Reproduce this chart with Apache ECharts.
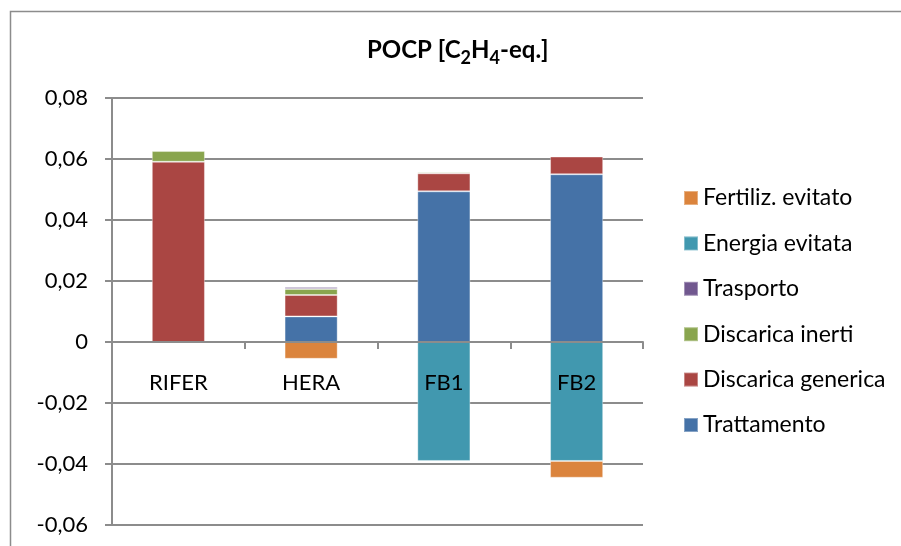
<!DOCTYPE html>
<html>
<head>
<meta charset="utf-8">
<script src="https://cdn.jsdelivr.net/npm/echarts@6/dist/echarts.min.js"></script>
<style>
  html, body { margin: 0; padding: 0; background: #fff; }
  #chart { width: 901px; height: 546px; }
</style>
</head>
<body>
<div id="chart"></div>
<script>
const categories = ["RIFER", "HERA", "FB1", "FB2"];
const trattamento = [0, 0.0084, 0.0494, 0.055];
const discaricaGenerica = [0.0591, 0.007, 0.0059, 0.0058];
const discaricaInerti = [0.0035, 0.002, 0.0004, 0];
const trasporto = [0, 0.0006, 0, 0];
const energiaEvitata = [0, 0, -0.039, -0.039];
const fertilizEvitato = [0, -0.0055, 0, -0.0055];
const legendOrder = ["Fertiliz. evitato", "Energia evitata", "Trasporto", "Discarica inerti", "Discarica generica", "Trattamento"];

const FONT = "Lato, 'Liberation Sans', sans-serif";
const myChart = echarts.init(document.getElementById("chart"));

function bar(name, data, color) {
  return {
    name: name,
    type: "bar",
    stack: "tot",
    // empty slots instead of zero-height bars
    data: data.map((v) => (v === 0 ? "-" : v)),
    barWidth: "40%",
    itemStyle: {
      color: color,
      borderColor: "rgba(255,255,255,0.35)",
      borderWidth: 1,
    },
  };
}

myChart.setOption({
  animation: false,
  textStyle: { fontFamily: FONT },
  title: {
    text: "{a|POCP [C}{s|2}{a|H}{s|4}{a|-eq.]}",
    left: 367,
    top: 36,
    padding: 0,
    textStyle: {
      rich: {
        a: { fontFamily: FONT, fontSize: 24, fontWeight: "bold", color: "#000", lineHeight: 28 },
        s: { fontFamily: FONT, fontSize: 18, fontWeight: "bold", color: "#000", lineHeight: 19, padding: [16, 0, 0, 0] },
      },
    },
  },
  graphic: [
    {
      type: "rect",
      shape: { x: 10.5, y: 11.5, width: 1000, height: 1000 },
      style: { fill: "none", stroke: "#8c8c8c", lineWidth: 1.5 },
      silent: true,
    },
  ],
  legend: {
    orient: "vertical",
    left: 683,
    top: 186,
    padding: 0,
    itemWidth: 14,
    itemHeight: 14,
    itemGap: 21.4,
    icon: "rect",
    data: legendOrder,
    textStyle: { fontFamily: FONT, fontSize: 23, color: "#000", lineHeight: 24 },
  },
  grid: { left: 112, right: 258, top: 98, bottom: 21, outerBoundsMode: "none" },
  xAxis: {
    type: "category",
    data: categories,
    z: 5, // labels drawn over the negative bars
    axisLine: { onZero: true, lineStyle: { color: "#8c8c8c", width: 2 } },
    axisTick: { show: true, length: 7, lineStyle: { color: "#8c8c8c", width: 2 } },
    // labels sit just under the zero line, as in the original
    axisLabel: { color: "#000", fontSize: 22, margin: -153 },
    splitLine: { show: false },
  },
  yAxis: {
    type: "value",
    min: -0.06,
    max: 0.08,
    interval: 0.02,
    axisLine: { show: true, lineStyle: { color: "#8c8c8c", width: 2 } },
    axisTick: { show: true, length: 7, lineStyle: { color: "#8c8c8c", width: 2 } },
    axisLabel: {
      color: "#000",
      fontSize: 22,
      margin: 24,
      formatter: function (v) {
        if (Math.abs(v) < 1e-9) return "0";
        return v.toFixed(2).replace(".", ",");
      },
    },
    splitLine: { show: true, lineStyle: { color: "#8c8c8c", width: 2 } },
  },
  series: [
    bar("Trattamento", trattamento, "#4572A7"),
    bar("Discarica generica", discaricaGenerica, "#AA4643"),
    bar("Discarica inerti", discaricaInerti, "#89A54E"),
    bar("Trasporto", trasporto, "#71588F"),
    bar("Energia evitata", energiaEvitata, "#4198AF"),
    bar("Fertiliz. evitato", fertilizEvitato, "#DB843D"),
  ],
});
</script>
</body>
</html>
